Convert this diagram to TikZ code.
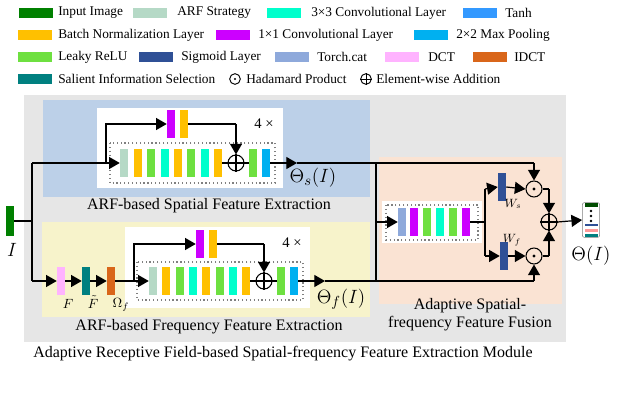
\documentclass[tikz,border=0pt]{standalone}
\usepackage{fontspec}
\setmainfont{Liberation Serif}
\usetikzlibrary{arrows.meta}
\definecolor{cIn}{HTML}{008000}
\definecolor{cARF}{HTML}{B5D9C6}
\definecolor{cC3}{HTML}{00FFCC}
\definecolor{cTanh}{HTML}{3399FF}
\definecolor{cBN}{HTML}{FFC000}
\definecolor{cC1}{HTML}{CC00FF}
\definecolor{cMP}{HTML}{00B0F0}
\definecolor{cLR}{HTML}{6EE040}
\definecolor{cSig}{HTML}{2F5096}
\definecolor{cCat}{HTML}{8EA9DB}
\definecolor{cDCT}{HTML}{FFB3FF}
\definecolor{cIDCT}{HTML}{D9661A}
\definecolor{cSIS}{HTML}{008080}
\definecolor{cGray}{HTML}{E6E6E6}
\definecolor{cBlue}{HTML}{BCD0E8}
\definecolor{cYel}{HTML}{F7F3CB}
\definecolor{cPeach}{HTML}{FAE3D3}
\begin{document}
\begin{tikzpicture}[x=0.75pt,y=-0.75pt,
  blk/.style={minimum width=6pt,minimum height=21pt,inner sep=0pt,draw=none},
  sw/.style={minimum width=25.5pt,minimum height=7.5pt,inner sep=0pt,draw=none},
  lt/.style={anchor=west,font=\fontsize{10}{11}\selectfont,inner sep=0pt},
  op/.style={circle,draw,line width=0.8pt,minimum size=12pt,inner sep=0pt},
  ln/.style={line width=0.9pt},
  ar/.style={ln,-{Triangle[width=9pt,length=8pt]}},
  lab/.style={font=\fontsize{12}{13.5}\selectfont,inner sep=0pt},
  th/.style={font=\fontsize{15}{16}\selectfont,inner sep=0pt},
  dot/.style={draw=gray,dotted,line width=0.9pt}]
\useasboundingbox (0,0) rectangle (622,406);
% legend
\node[sw,fill=cIn] (l1) at (36,13) {}; \node[lt] (t1) at (58,13) {Input Image};
\node[sw,fill=cARF] (l2) at (150,13) {}; \node[lt] (t2) at (177,13) {ARF Strategy};
\node[sw,fill=cC3] (l3) at (284,13) {}; \node[lt] (t3) at (311,13) {3×3 Convolutional Layer};
\node[sw,fill=cTanh] (l4) at (480,13) {}; \node[lt] (t4) at (505,13) {Tanh};
\node[sw,fill=cBN] (l5) at (35,35) {}; \node[lt] (t5) at (58,35) {Batch Normalization Layer};
\node[sw,fill=cC1] (l6) at (233,35) {}; \node[lt] (t6) at (258,35) {1×1 Convolutional Layer};
\node[sw,fill=cMP] (l7) at (431,35) {}; \node[lt] (t7) at (456,35) {2×2 Max Pooling};
\node[sw,fill=cLR] (l8) at (35,57) {}; \node[lt] (t8) at (58,57) {Leaky ReLU};
\node[sw,fill=cSig] (l9) at (156,57) {}; \node[lt] (t9) at (181,57) {Sigmoid Layer};
\node[sw,fill=cCat] (l10) at (292,57) {}; \node[lt] (t10) at (317,57) {Torch.cat};
\node[sw,fill=cDCT] (l11) at (402,57) {}; \node[lt] (t11) at (428,57) {DCT};
\node[sw,fill=cIDCT] (l12) at (490,57) {}; \node[lt] (t12) at (514,57) {IDCT};
\node[sw,fill=cSIS] (l13) at (35,79) {}; \node[lt] (t13) at (58,79) {Salient Information Selection};
\node[circle,draw,line width=0.7pt,minimum size=8pt,inner sep=0pt] (l14) at (235,79) {}; \fill (l14) circle (0.9pt);
\node[lt] (t14) at (246,79) {Hadamard Product};
\node[circle,draw,line width=0.7pt,minimum size=8pt,inner sep=0pt] (l15) at (366,79) {};
\draw[line width=0.7pt] (l15.north)--(l15.south) (l15.west)--(l15.east);
\node[lt] (t15) at (376,79) {Element-wise Addition};
% backgrounds
\fill[cGray] (24,95) rectangle (566,342);
\fill[cBlue] (43,100) rectangle (370,197);
\fill[white] (97,108) rectangle (283,188);
\draw[dot] (110,143) rectangle (275,183);
\fill[cYel] (42,222) rectangle (370,317);
\fill[white] (125,227) rectangle (310,308);
\draw[dot] (137,262) rectangle (303,300);
\fill[cPeach] (379,157) rectangle (562,304);
\fill[white] (382,201) rectangle (482,243);
\draw[dot] (386,205) rectangle (478,240);
% labels
\node[lab] (ls) at (209,206) {ARF-based Spatial Feature Extraction};
\node[lab] (lf) at (209,327) {ARF-based Frequency Feature Extraction};
\node[lab,align=center] (la) at (470,315) {Adaptive Spatial-\\frequency Feature Fusion};
\node[lab] (lm) at (283,354) {Adaptive Receptive Field-based Spatial-frequency Feature Extraction Module};
% input
\node[blk,fill=cIn,minimum height=22pt] (in) at (10,221) {};
\node[th] (I) at (12,250) {$I$};
\coordinate (j0) at (32,221);
\coordinate (s0) at (32,163);
\coordinate (f0) at (32,281);
\draw[ln] (in.east)--(j0) (s0)--(f0);
% spatial branch
\node[blk,fill=cARF] (s1) at (124,163) {};
\node[blk,fill=cBN] (s2) at (138,163) {};
\node[blk,fill=cLR] (s3) at (151,163) {};
\node[blk,fill=cC3] (s4) at (165,163) {};
\node[blk,fill=cBN] (s5) at (178,163) {};
\node[blk,fill=cLR] (s6) at (191,163) {};
\node[blk,fill=cC3] (s7) at (205,163) {};
\node[blk,fill=cBN] (s8) at (218,163) {};
\node[op] (sp) at (236,163) {};
\draw[line width=0.8pt] (sp.north)--(sp.south) (sp.west)--(sp.east);
\node[blk,fill=cLR] (s9) at (253,163) {};
\node[blk,fill=cMP] (s10) at (266,163) {};
\node[blk,fill=cC1] (sk1) at (171,124) {};
\node[blk,fill=cBN] (sk2) at (184,124) {};
\node[font=\fontsize{11}{12}\selectfont] (s4x) at (264,124) {4 ×};
\coordinate (sa) at (106,163);
\coordinate (sb) at (106,124);
\coordinate (sc) at (236,124);
\coordinate (sout) at (297,163);
\coordinate (sr) at (376,163);
\draw[ar] (s0)--(s1.west);
\draw[ar] (sa)--(sb)--(sk1.west);
\draw[ln] (sk2.east)--(sc); \draw[ar] (sc)--(sp.north);
\draw[ln] (s8.east)--(sp.west) (sp.east)--(s9.west);
\draw[ar] (s10.east)--(sout); \draw[ln] (sout)--(sr);
\node[th] (ths) at (313,178) {$\Theta_s(I)$};
% frequency branch
\node[blk,fill=cDCT] (f1) at (61,281) {};
\node[blk,fill=cSIS] (f2) at (86,281) {};
\node[blk,fill=cIDCT] (f3) at (111,281) {};
\node[font=\fontsize{10}{11}\selectfont] (F1) at (68,304) {$F$};
\node[font=\fontsize{10}{11}\selectfont] (F2) at (93,302) {$\tilde F$};
\node[font=\fontsize{10}{11}\selectfont] (F3) at (121,305) {$\Omega_f$};
\node[blk,fill=cARF] (g1) at (153,281) {};
\node[blk,fill=cBN] (g2) at (166,281) {};
\node[blk,fill=cLR] (g3) at (180,281) {};
\node[blk,fill=cC3] (g4) at (193,281) {};
\node[blk,fill=cBN] (g5) at (206,281) {};
\node[blk,fill=cLR] (g6) at (220,281) {};
\node[blk,fill=cC3] (g7) at (233,281) {};
\node[blk,fill=cBN] (g8) at (246,281) {};
\node[op] (gp) at (264,281) {};
\draw[line width=0.8pt] (gp.north)--(gp.south) (gp.west)--(gp.east);
\node[blk,fill=cLR] (g9) at (281,281) {};
\node[blk,fill=cMP] (g10) at (294,281) {};
\node[blk,fill=cC1] (gk1) at (200,244) {};
\node[blk,fill=cBN] (gk2) at (213,244) {};
\node[font=\fontsize{11}{12}\selectfont] (g4x) at (292,243) {4 ×};
\coordinate (ga) at (134,281);
\coordinate (gb) at (134,244);
\coordinate (gc) at (264,244);
\coordinate (gout) at (325,281);
\coordinate (gr) at (376,281);
\draw[ar] (f0)--(f1.west);
\draw[ar] (f1.east)--(f2.west);
\draw[ar] (f2.east)--(f3.west);
\draw[ar] (f3.east)--(g1.west);
\draw[ar] (ga)--(gb)--(gk1.west);
\draw[ln] (gk2.east)--(gc); \draw[ar] (gc)--(gp.north);
\draw[ln] (g8.east)--(gp.west) (gp.east)--(g9.west);
\draw[ar] (g10.east)--(gout); \draw[ln] (gout)--(gr);
\node[th] (thf) at (341,299) {$\Theta_f(I)$};
\draw[ln] (sr)--(gr);
% fusion
\node[blk,fill=cCat] (a1) at (402,222) {};
\node[blk,fill=cC1] (a2) at (414,222) {};
\node[blk,fill=cLR] (a3) at (427,222) {};
\node[blk,fill=cC3] (a4) at (440,222) {};
\node[blk,fill=cLR] (a5) at (453,222) {};
\node[blk,fill=cC1] (a6) at (466,222) {};
\draw[ar] (sr|-a1)--(a1.west);
\coordinate (ab) at (485,222);
\coordinate (abu) at (485,189);
\coordinate (abd) at (485,256);
\draw[ln] (a6.east)--(ab) (abu)--(abd);
\node[blk,fill=cSig] (w1) at (502,187) {};
\node[blk,fill=cSig] (w2) at (504,256) {};
\node[font=\fontsize{9}{10}\selectfont] (ws) at (513,204) {$W_s$};
\node[font=\fontsize{9}{10}\selectfont] (wf) at (512,240) {$W_f$};
\node[op] (h1) at (534,189) {}; \fill (h1) circle (1.3pt);
\node[op] (h2) at (534,256) {}; \fill (h2) circle (1.3pt);
\node[op] (ad) at (549,222) {};
\draw[line width=0.8pt] (ad.north)--(ad.south) (ad.west)--(ad.east);
\draw[ar] (abu)--(w1.west);
\draw[ar] (abd)--(w2.west);
\draw[ar] (w1.east)--(h1.west);
\draw[ar] (w2.east)--(h2.west);
\coordinate (t1c) at (534,163);
\coordinate (t2c) at (534,281);
\draw[ln] (sr)--(t1c); \draw[ar] (t1c)--(h1.north);
\draw[ln] (gr)--(t2c); \draw[ar] (t2c)--(h2.south);
\coordinate (u1) at (549,189);
\coordinate (u2) at (549,256);
\draw[ln] (h1.east)--(u1); \draw[ar] (u1)--(ad.north);
\draw[ln] (h2.east)--(u2); \draw[ar] (u2)--(ad.south);
% output icon
\node[draw=gray,rounded corners=1.5pt,fill=white,minimum width=13pt,minimum height=26pt,inner sep=0pt] (out) at (591,220) {};
\draw[ar] (ad.east)--(out.west);
\fill[green!30!black] (585,203) rectangle (598,207);
\fill (591,211) circle (1pt) (591,216) circle (1pt) (591,221) circle (1pt);
\fill[cSig] (585,224) rectangle (598,226.5);
\fill[red!40] (585,229) rectangle (598,232);
\fill[cSIS] (585,234) rectangle (598,237);
\node[th] (tho) at (591,256) {$\Theta(I)$};
\end{tikzpicture}
\end{document}
